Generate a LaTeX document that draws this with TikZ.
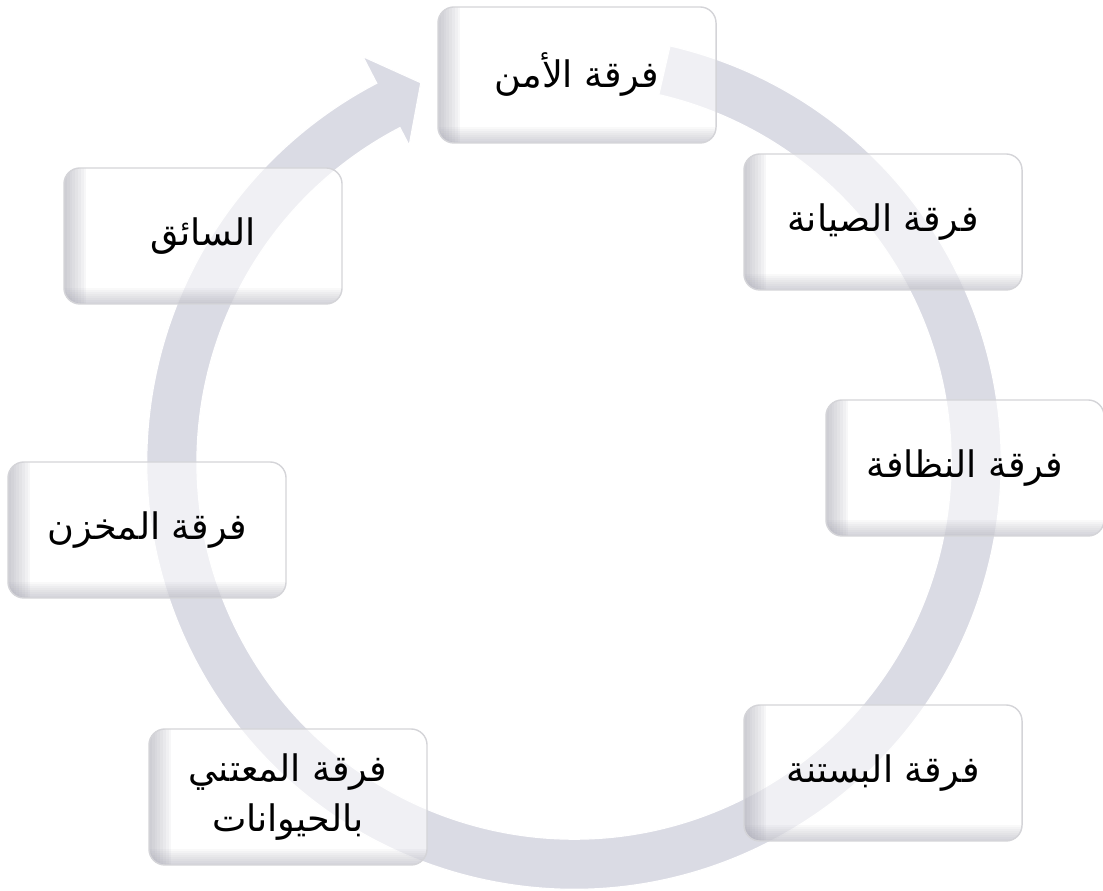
\documentclass[tikz,border=0pt]{standalone}
\usepackage{fontspec}
\newfontfamily\arabicfont[Script=Arabic]{DejaVu Sans}
\TeXXeTstate=1
\usetikzlibrary{calc}
\definecolor{ringgray}{RGB}{218,219,228}
\definecolor{boxedge}{RGB}{212,212,216}
\definecolor{boxshade}{RGB}{150,150,165}

\tikzset{
  team/.style={draw=boxedge, line width=1pt, rounded corners=0.4cm,
    fill=white, fill opacity=0.6, text opacity=1,
    minimum width=6.95cm, minimum height=3.4cm, align=center,
    font=\arabicfont\fontsize{26}{36}\selectfont,
    path picture={
      \foreach \i in {1,...,8}{
        \fill[boxshade, fill opacity=0.07, sharp corners] (path picture bounding box.south west) rectangle ([xshift=\i*0.07cm]path picture bounding box.north west);
        \fill[boxshade, fill opacity=0.06, sharp corners] (path picture bounding box.south west) rectangle ([yshift=\i*0.05cm]path picture bounding box.south east);
      }
    }},
}

\begin{document}
\begin{tikzpicture}[x=0.025cm,y=0.025cm]
\useasboundingbox (0,0) rectangle (1103,891);
\coordinate (ctr) at (574,429);

% ring with arrow head
\fill[ringgray, draw=white, line width=0.8pt]
  ($(ctr)+(77:427)$) arc[start angle=77, end angle=-242.5, radius=10.675cm]
  -- ($(ctr)+(117.5:457)$) -- ($(ctr)+(112:409)$) -- ($(ctr)+(117.5:357)$)
  -- ($(ctr)+(117.5:377)$) arc[start angle=117.5, end angle=437, radius=9.425cm] -- cycle;

% teams
\node[team] (amn) at (577,816) {\beginR فرقة الأمن\endR};
\node[team] (siyana) at (883,669) {\beginR فرقة الصيانة\endR};
\node[team] (nazafa) at (965,423) {\beginR فرقة النظافة\endR};
\node[team] (bustana) at (883,118) {\beginR فرقة البستنة\endR};
\node[team] (haywan) at (288,94) {\beginR فرقة المعتني\endR\\\beginR بالحيوانات\endR};
\node[team] (makhzan) at (147,361) {\beginR فرقة المخزن\endR};
\node[team] (saiq) at (203,655) {\beginR السائق\endR};
\end{tikzpicture}
\end{document}
